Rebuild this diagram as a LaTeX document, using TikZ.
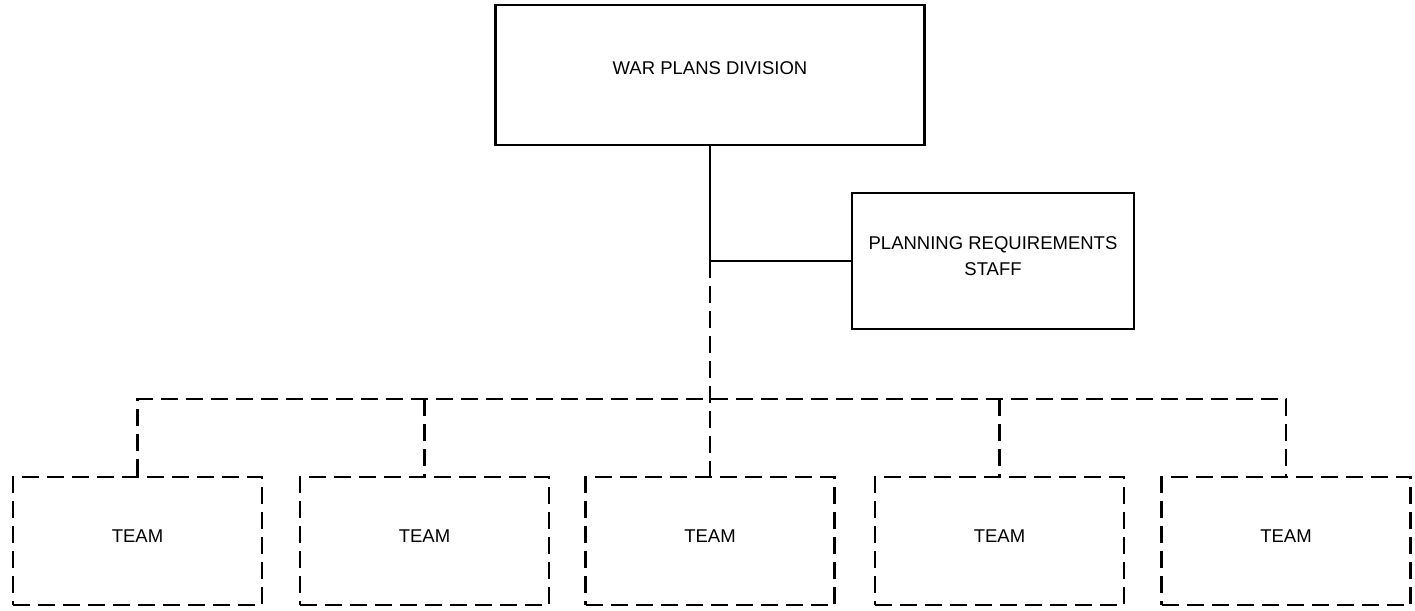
\documentclass[tikz,border=0pt]{standalone}
\usepackage{fontspec}
\setmainfont{Liberation Sans}
\begin{document}
\begin{tikzpicture}[x=1pt,y=-1pt,
  orgbox/.style={draw=black, line width=2.2pt, fill=none, inner sep=0pt},
  teambox/.style={draw=black, line width=2.5pt, inner sep=0pt,
    dash pattern=on 17pt off 8pt,
    minimum width=249pt, minimum height=128pt},
  boxtext/.style={font=\fontsize{18.5}{26}\selectfont, align=center, inner sep=0pt},
  solidlink/.style={line width=2.2pt},
  dashlink/.style={line width=2.5pt, dash pattern=on 17pt off 8pt}]
\useasboundingbox (0,0) rectangle (1415,610);

% upper level: division and its staff
\node[orgbox, minimum width=429pt, minimum height=140pt] (wpd) at (710,75) {};
\node[boxtext] (wpdtext) at (710,68) {WAR PLANS DIVISION};
\node[orgbox, minimum width=282pt, minimum height=136pt] (prs) at (993,261) {};
\node[boxtext] (prstext) at (993,256) {PLANNING REQUIREMENTS\\STAFF};

% teams
\node[teambox] (team1) at (137.5,541) {};
\node[teambox] (team2) at (424.5,541) {};
\node[teambox] (team3) at (710,541) {};
\node[teambox] (team4) at (999.5,541) {};
\node[teambox] (team5) at (1286,541) {};
\foreach \i in {1,...,5}
  \node[boxtext] (teamtext\i) at ([yshift=5pt]team\i.center) {TEAM};

% solid links
\coordinate (junction) at (wpd.south |- prs.west);
\draw[solidlink] (wpd.south) -- (junction) -- (prs.west);

% dashed links down to the teams
\coordinate (bus) at (710,399);
\draw[dashlink] (junction) -- (team3.north);
\draw[dashlink] (team1.north) -- (team1.north |- bus) -- (team5.north |- bus) -- (team5.north);
\draw[dashlink] (team2.north |- bus) -- (team2.north);
\draw[dashlink] (team4.north |- bus) -- (team4.north);
\end{tikzpicture}
\end{document}
